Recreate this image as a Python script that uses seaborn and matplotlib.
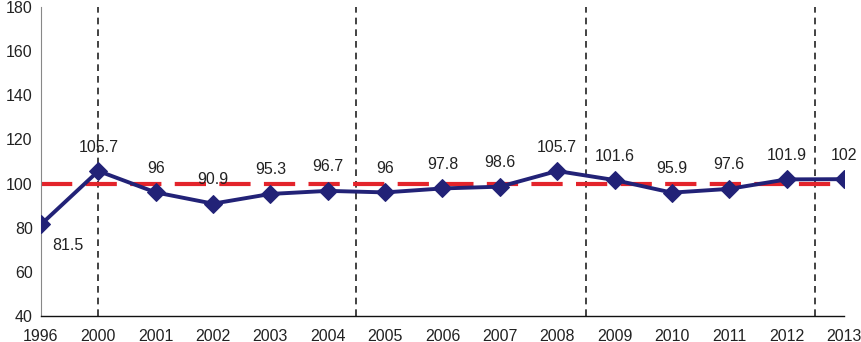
import matplotlib
matplotlib.use("Agg")
import matplotlib.pyplot as plt
import seaborn as sns
import pandas as pd

years = ["1996", "2000", "2001", "2002", "2003", "2004", "2005", "2006",
         "2007", "2008", "2009", "2010", "2011", "2012", "2013"]
values = [81.5, 105.7, 96, 90.9, 95.3, 96.7, 96, 97.8, 98.6, 105.7,
          101.6, 95.9, 97.6, 101.9, 102]
labels = ["81.5", "105.7", "96", "90.9", "95.3", "96.7", "96", "97.8",
          "98.6", "105.7", "101.6", "95.9", "97.6", "101.9", "102"]
reference = 100
breaks = [1, 5.5, 9.5, 13.5]

df = pd.DataFrame({"pos": range(len(years)), "value": values})

sns.set_style("white")
plt.rcParams["font.family"] = ["Liberation Sans", "DejaVu Sans"]

fig = plt.figure(figsize=(8.61, 3.42), dpi=100)
ax = fig.add_axes([0.0476, 0.076, 0.9326, 0.9035])

for b in breaks:
    ax.axvline(b, color="#222222", lw=1.2, ls=(0, (4, 3)), zorder=1)

ax.axhline(reference, color="#e3242b", lw=3.0, ls=(0, (7.5, 3.2)), zorder=2)

sns.lineplot(data=df, x="pos", y="value", ax=ax, color="#222277", lw=2.8,
             marker="D", markersize=9.5, markeredgecolor="#222277", zorder=3)

for i, (v, t) in enumerate(zip(values, labels)):
    if i == 0:
        ax.annotate(t, (i, v), xytext=(27, -21), textcoords="offset pixels",
                    ha="center", va="center", fontsize=11.5, color="#222222")
    else:
        ax.annotate(t, (i, v), xytext=(0, 24), textcoords="offset pixels",
                    ha="center", va="center", fontsize=11.5, color="#222222")

ax.set_xlim(0, len(years) - 1)
ax.set_ylim(40, 180)
ax.set_yticks(range(40, 181, 20))
ax.set_xticks(range(len(years)))
ax.set_xticklabels(years)
ax.set_xlabel("")
ax.set_ylabel("")
ax.tick_params(axis="both", labelsize=11.5, colors="#222222", length=4,
               width=0.8, pad=2)
ax.tick_params(axis="x", pad=5)
ax.tick_params(axis="y", color="#888888")
ax.tick_params(axis="x", color="#888888")

for s in ["top", "right"]:
    ax.spines[s].set_visible(False)
ax.spines["left"].set_color("#888888")
ax.spines["left"].set_linewidth(0.8)
ax.spines["bottom"].set_color("#111111")
ax.spines["bottom"].set_linewidth(1.0)

fig.savefig("out.png", dpi=100)
